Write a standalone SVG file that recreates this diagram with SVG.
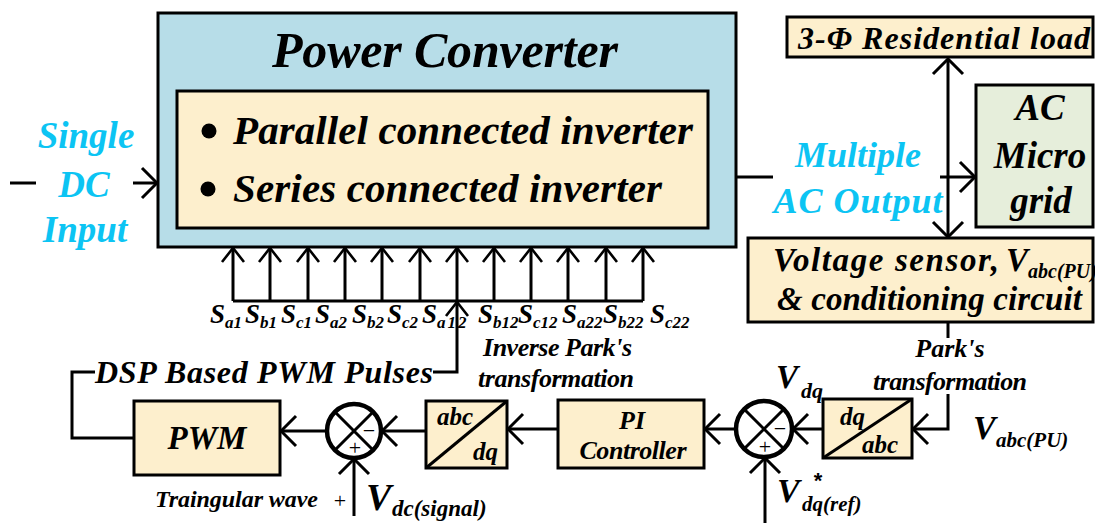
<svg xmlns="http://www.w3.org/2000/svg" width="1095" height="523" viewBox="0 0 1095 523">
<style>
.t{font-family:"Liberation Serif","Times New Roman",serif;font-weight:bold;font-style:italic;fill:#000}
.c{fill:#0cc4f3}
.box{stroke:#000;stroke-width:3}
.cream{fill:#fdefcd}
.ln{fill:none;stroke:#000;stroke-width:3}
.sym{font-family:"Liberation Serif",serif;font-size:22px;fill:#000}
</style>
<defs>
<marker id="a" markerUnits="userSpaceOnUse" viewBox="-18 -18 20 36" markerWidth="20" markerHeight="36" refX="0" refY="0" orient="auto">
<path d="M-15,-15 L0,0 L-15,15" fill="none" stroke="#000" stroke-width="3"/>
</marker>
<marker id="s" markerUnits="userSpaceOnUse" viewBox="-16 -14 18 28" markerWidth="18" markerHeight="28" refX="0" refY="0" orient="auto">
<path d="M-14,-11 L0,0 L-14,11" fill="none" stroke="#000" stroke-width="2.6"/>
</marker>
</defs>

<g id="power-converter">
<rect x="158" y="13" width="578" height="234" fill="#b7dde8" class="box"/>
<text class="t" x="272" y="67" font-size="50" textLength="346">Power Converter</text>
<rect x="177" y="91" width="531" height="137" class="box cream"/>
<circle cx="209" cy="131" r="7.5" fill="#000"/>
<circle cx="208" cy="189" r="7.5" fill="#000"/>
<text class="t" x="233" y="144" font-size="41" textLength="460">Parallel connected inverter</text>
<text class="t" x="233" y="202" font-size="41" textLength="429">Series connected inverter</text>
</g>

<g id="dc-input">
<text class="t c" x="86" y="148" font-size="37" text-anchor="middle">Single</text>
<text class="t c" x="84" y="197" font-size="37" text-anchor="middle">DC</text>
<text class="t c" x="85" y="242" font-size="37" text-anchor="middle">Input</text>
</g>

<g id="ac-output">
<text class="t c" x="858" y="167" font-size="36" text-anchor="middle">Multiple</text>
<text class="t c" x="858" y="213" font-size="36" text-anchor="middle" textLength="169">AC Output</text>
</g>

<g id="residential-load">
<rect x="787" y="17" width="306" height="40" class="box cream"/>
<text class="t" x="798" y="49" font-size="32" textLength="292">3-Φ Residential load</text>
</g>

<g id="ac-microgrid">
<rect x="976" y="85" width="117" height="142" fill="#e6eedb" class="box"/>
<text class="t" x="1040" y="120" font-size="37" text-anchor="middle">AC</text>
<text class="t" x="1040" y="168" font-size="37" text-anchor="middle">Micro</text>
<text class="t" x="1041" y="213" font-size="37" text-anchor="middle">grid</text>
</g>

<g id="voltage-sensor">
<rect x="748" y="238" width="345" height="84" class="box cream"/>
<text class="t" x="773" y="271" font-size="33" textLength="226">Voltage sensor,</text>
<text class="t" x="1006" y="271" font-size="33">V</text>
<text class="t" x="1028" y="278" font-size="20">abc(PU)</text>
<text class="t" x="777" y="310" font-size="33" textLength="305">&amp; conditioning circuit</text>
</g>

<g id="switch-labels" class="t" font-size="27">
<text x="210" y="323">S<tspan font-size="17" dy="5">a1</tspan></text>
<text x="245" y="323">S<tspan font-size="17" dy="5">b1</tspan></text>
<text x="281" y="323">S<tspan font-size="17" dy="5">c1</tspan></text>
<text x="315" y="323">S<tspan font-size="17" dy="5">a2</tspan></text>
<text x="352" y="323">S<tspan font-size="17" dy="5">b2</tspan></text>
<text x="387" y="323">S<tspan font-size="17" dy="5">c2</tspan></text>
<text x="422" y="323">S<tspan font-size="17" dy="5" letter-spacing="2">a12</tspan></text>
<text x="478" y="323">S<tspan font-size="17" dy="5">b12</tspan></text>
<text x="518" y="323">S<tspan font-size="17" dy="5">c12</tspan></text>
<text x="562" y="323">S<tspan font-size="17" dy="5">a22</tspan></text>
<text x="603" y="323">S<tspan font-size="17" dy="5">b22</tspan></text>
<text x="650" y="323">S<tspan font-size="17" dy="5">c22</tspan></text>
</g>

<g id="dsp-label">
<text class="t" x="95" y="383" font-size="32" textLength="338">DSP Based PWM Pulses</text>
</g>

<g id="pwm">
<rect x="134" y="401" width="146" height="74" class="box cream"/>
<text class="t" x="207" y="449" font-size="33" text-anchor="middle">PWM</text>
</g>

<g id="sum1">
<circle cx="354" cy="431" r="27" fill="#fff" stroke="#000" stroke-width="4.5"/>
<path d="M335,412 L373,450 M373,412 L335,450" class="ln" stroke-width="3.5"/>
<text class="sym" x="369" y="438" text-anchor="middle">−</text>
<text class="sym" x="355" y="455" text-anchor="middle">+</text>
</g>

<g id="abc-dq">
<rect x="426" y="401" width="81" height="67" class="box cream"/>
<path d="M426,468 L507,401" class="ln"/>
<text class="t" x="437" y="425" font-size="25">abc</text>
<text class="t" x="473" y="460" font-size="25">dq</text>
</g>

<g id="inverse-park-label">
<text class="t" x="483" y="356" font-size="26" textLength="149">Inverse Park's</text>
<text class="t" x="478" y="387" font-size="26" textLength="156">transformation</text>
</g>

<g id="pi-controller">
<rect x="558" y="400" width="146" height="68" class="box cream"/>
<text class="t" x="632" y="429" font-size="26" text-anchor="middle">PI</text>
<text class="t" x="633" y="459" font-size="26" text-anchor="middle" textLength="107">Controller</text>
</g>

<g id="sum2">
<circle cx="764" cy="429" r="28" fill="#fff" stroke="#000" stroke-width="4.5"/>
<path d="M744,409 L784,449 M784,409 L744,449" class="ln" stroke-width="3.5"/>
<text class="sym" x="780" y="436" text-anchor="middle">−</text>
<text class="sym" x="765" y="454" text-anchor="middle">+</text>
</g>

<g id="dq-abc">
<rect x="823" y="399" width="89" height="59" class="box cream"/>
<path d="M823,458 L912,399" class="ln"/>
<text class="t" x="840" y="425" font-size="25">dq</text>
<text class="t" x="862" y="453" font-size="25">abc</text>
</g>

<g id="park-label">
<text class="t" x="950" y="357" font-size="26" text-anchor="middle">Park's</text>
<text class="t" x="950" y="390" font-size="26" text-anchor="middle" textLength="154">transformation</text>
</g>

<g id="signal-labels">
<text class="t" x="776" y="388" font-size="33">V</text>
<text class="t" x="801" y="398" font-size="22">dq</text>
<text class="t" x="973" y="439" font-size="34">V</text>
<text class="t" x="996" y="447" font-size="21">abc(PU)</text>
<text class="t" x="777" y="502" font-size="34">V</text>
<text x="818" y="488" font-family="Liberation Sans,sans-serif" font-weight="bold" font-size="22" text-anchor="middle">*</text>
<text class="t" x="802" y="511" font-size="21">dq(ref)</text>
<text class="t" x="318" y="507" font-size="24" text-anchor="end" textLength="163">Traingular wave</text>
<text class="sym" x="340" y="508" text-anchor="middle">+</text>
<text class="t" x="366" y="510" font-size="38">V</text>
<text class="t" x="392" y="516" font-size="23">dc(signal)</text>
</g>

<g id="connectors">
<path d="M10,183 L36,183" class="ln"/>
<path d="M133,183 L157,183" class="ln" marker-end="url(#a)"/>
<path d="M736,177 L773,177" class="ln"/>
<path d="M940,177 L975,177" class="ln" marker-end="url(#a)"/>
<path d="M948,150 L948,59" class="ln" marker-end="url(#a)"/>
<path d="M948,150 L948,237" class="ln" marker-end="url(#a)"/>
<path d="M233,301 L643,301" class="ln"/>
<g class="ln" stroke-width="2.6">
<path d="M233,301 V248" marker-end="url(#s)"/>
<path d="M270,301 V248" marker-end="url(#s)"/>
<path d="M308,301 V248" marker-end="url(#s)"/>
<path d="M345,301 V248" marker-end="url(#s)"/>
<path d="M382,301 V248" marker-end="url(#s)"/>
<path d="M420,301 V248" marker-end="url(#s)"/>
<path d="M457,301 V248" marker-end="url(#s)"/>
<path d="M494,301 V248" marker-end="url(#s)"/>
<path d="M531,301 V248" marker-end="url(#s)"/>
<path d="M568,301 V248" marker-end="url(#s)"/>
<path d="M606,301 V248" marker-end="url(#s)"/>
<path d="M643,301 V248" marker-end="url(#s)"/>
</g>
<path d="M433,372 L457,372 L457,302" class="ln" marker-end="url(#s)"/>
<path d="M134,438 L72,438 L72,372 L95,372" class="ln"/>
<path d="M948,322 L948,338" class="ln"/>
<path d="M948,394 L948,429 L913,429" class="ln" marker-end="url(#a)"/>
<path d="M823,429 L793,429" class="ln" marker-end="url(#a)"/>
<path d="M736,429 L705,429" class="ln" marker-end="url(#a)"/>
<path d="M558,429 L508,429" class="ln" marker-end="url(#a)"/>
<path d="M426,431 L382,431" class="ln" marker-end="url(#a)"/>
<path d="M326,431 L281,431" class="ln" marker-end="url(#a)"/>
<path d="M765,523 L765,458" class="ln" marker-end="url(#a)"/>
<path d="M354,516 L354,459" class="ln" marker-end="url(#a)"/>
</g>
</svg>
